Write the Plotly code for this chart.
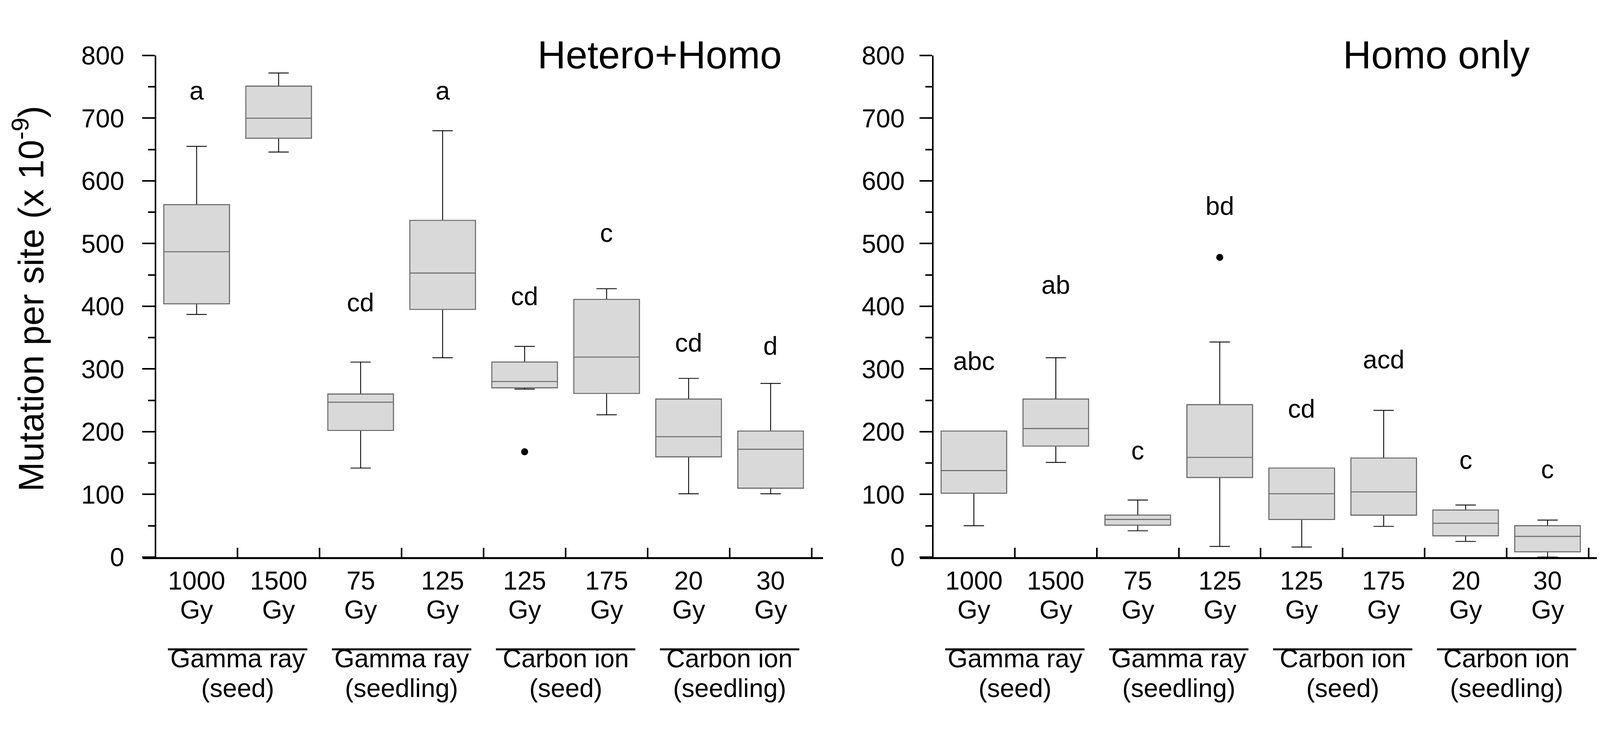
import plotly.graph_objects as go

doses = ['1000', '1500', '75', '125', '125', '175', '20', '30']
groups = ['Gamma ray', 'Gamma ray', 'Carbon ion', 'Carbon ion']
stages = ['(seed)', '(seedling)', '(seed)', '(seedling)']

# Hetero+Homo panel
hh_low = [387, 646, 142, 318, 268, 227, 101, 101]
hh_q1 = [404, 668, 202, 395, 270, 261, 160, 110]
hh_med = [487, 700, 247, 453, 280, 319, 192, 172]
hh_q3 = [562, 751, 260, 537, 311, 411, 252, 201]
hh_high = [655, 772, 311, 680, 336, 428, 285, 277]
hh_out_x = [4]
hh_out_y = [168]
hh_letters = ['a', 'b', 'cd', 'a', 'cd', 'c', 'cd', 'd']
hh_letter_y = [744, 850, 406, 744, 416, 517, 342, 337]

# Homo only panel
ho_low = [50, 151, 42, 17, 16, 49, 25, 0]
ho_q1 = [102, 177, 51, 127, 60, 67, 34, 8.5]
ho_med = [138, 205, 60, 159, 101, 104, 54, 33]
ho_q3 = [201, 252, 67, 243, 142, 158, 75, 50]
ho_high = [201, 318, 91, 343, 142, 234, 83, 59]
ho_out_x = [3]
ho_out_y = [478]
ho_letters = ['abc', 'ab', 'c', 'bd', 'cd', 'acd', 'c', 'c']
ho_letter_y = [313, 434, 170, 560, 237, 315, 155, 140]

FONT = 'Liberation Sans, Arial, sans-serif'
# the page shows about 4098 px across, so lay things out for that
SX = 4098 / 4331
W, H = 4090, 1863
pos = list(range(len(doses)))


def px(X):
    return (X * SX - 8) / W


def py(Y):
    return 1 - (Y - 8) / H


fig = go.Figure()
annotations = []
shapes = []


def add_panel(n, low, q1, med, q3, high, out_x, out_y, letters, letter_y, title, title_x):
    xa = 'x' if n == 1 else 'x2'
    ya = 'y' if n == 1 else 'y2'
    # whiskers in black
    fig.add_trace(go.Box(x=pos, q1=q1, median=med, q3=q3, lowerfence=low, upperfence=high,
                         width=0.8, whiskerwidth=0.31, boxpoints=False,
                         fillcolor='rgba(0,0,0,0)', line=dict(color='black', width=2.2),
                         xaxis=xa, yaxis=ya, hoverinfo='skip'))
    # box body with grey outline on top
    fig.add_trace(go.Box(x=pos, q1=q1, median=med, q3=q3, lowerfence=q1, upperfence=q3,
                         width=0.8, whiskerwidth=0, boxpoints=False,
                         fillcolor='#d9d9d9', line=dict(color='#6b6b6b', width=2.6),
                         xaxis=xa, yaxis=ya))
    fig.add_trace(go.Scatter(x=out_x, y=out_y, mode='markers',
                             marker=dict(color='black', size=18),
                             xaxis=xa, yaxis=ya))
    for i, (t, yy) in enumerate(zip(letters, letter_y)):
        annotations.append(dict(x=i, y=yy, xref=xa, yref=ya, text=t, showarrow=False,
                                font=dict(size=66, color='black', family=FONT)))
    for i, d in enumerate(doses):
        annotations.append(dict(x=i, y=py(1549), xref=xa, yref='paper', text=d,
                                showarrow=False, font=dict(size=66, color='black', family=FONT)))
        annotations.append(dict(x=i, y=py(1626), xref=xa, yref='paper', text='Gy',
                                showarrow=False, font=dict(size=66, color='black', family=FONT)))
    for k, (g, s) in enumerate(zip(groups, stages)):
        c = 2 * k + 0.5
        annotations.append(dict(x=c, y=py(1756), xref=xa, yref='paper', text=g,
                                showarrow=False, font=dict(size=66, color='black', family=FONT)))
        annotations.append(dict(x=c, y=py(1836), xref=xa, yref='paper', text=s,
                                showarrow=False, font=dict(size=66, color='black', family=FONT)))
        shapes.append(dict(type='line', xref=xa, yref='paper', x0=2 * k - 0.35, x1=2 * k + 1.35,
                           y0=py(1692), y1=py(1692), line=dict(color='black', width=5)))
    annotations.append(dict(x=title_x, y=py(107), xref='paper', yref='paper', text=title,
                            xanchor='right', yanchor='middle', showarrow=False,
                            font=dict(size=100, color='black', family=FONT)))


add_panel(1, hh_low, hh_q1, hh_med, hh_q3, hh_high, hh_out_x, hh_out_y,
          hh_letters, hh_letter_y, 'Hetero+Homo', px(2117))
add_panel(2, ho_low, ho_q1, ho_med, ho_q3, ho_high, ho_out_x, ho_out_y,
          ho_letters, ho_letter_y, 'Homo only', px(4141))

annotations.append(dict(x=px(76), y=py(757), xref='paper', yref='paper',
                        text='Mutation per site (x 10<sup>-9</sup>)', textangle=-90,
                        xanchor='center', yanchor='middle', showarrow=False,
                        font=dict(size=91, color='black', family=FONT)))

xcommon = dict(range=[-0.66, 7.64], tickvals=[i + 0.5 for i in pos], showticklabels=False,
               ticks='inside', ticklen=24, tickwidth=4, tickcolor='black',
               showline=True, linewidth=5, linecolor='black', showgrid=False, zeroline=False)
ycommon = dict(range=[0, 800], tickvals=list(range(0, 801, 100)), ticks='outside',
               ticklen=32, tickwidth=4, tickcolor='black', showline=True, linewidth=4,
               linecolor='black', showgrid=False, zeroline=False, anchor='free',
               minor=dict(dtick=50, tick0=0, ticks='outside', ticklen=17, tickwidth=4,
                          tickcolor='black', showgrid=False),
               tickfont=dict(size=66, color='black', family=FONT), domain=[py(1446), py(109)])

fig.update_layout(
    width=W, height=H,
    margin=dict(l=0, r=0, t=0, b=0),
    paper_bgcolor='white', plot_bgcolor='white',
    showlegend=False,
    xaxis=dict(xcommon, domain=[px(385.5), px(2227)], anchor='y'),
    xaxis2=dict(xcommon, domain=[px(2488.5), min(px(4329), 1)], anchor='y2'),
    yaxis=dict(ycommon, position=px(421), ticklabelstandoff=33),
    yaxis2=dict(ycommon, position=px(2524), ticklabelstandoff=25),
    annotations=annotations,
    shapes=shapes,
)

fig.write_html('out.html')
